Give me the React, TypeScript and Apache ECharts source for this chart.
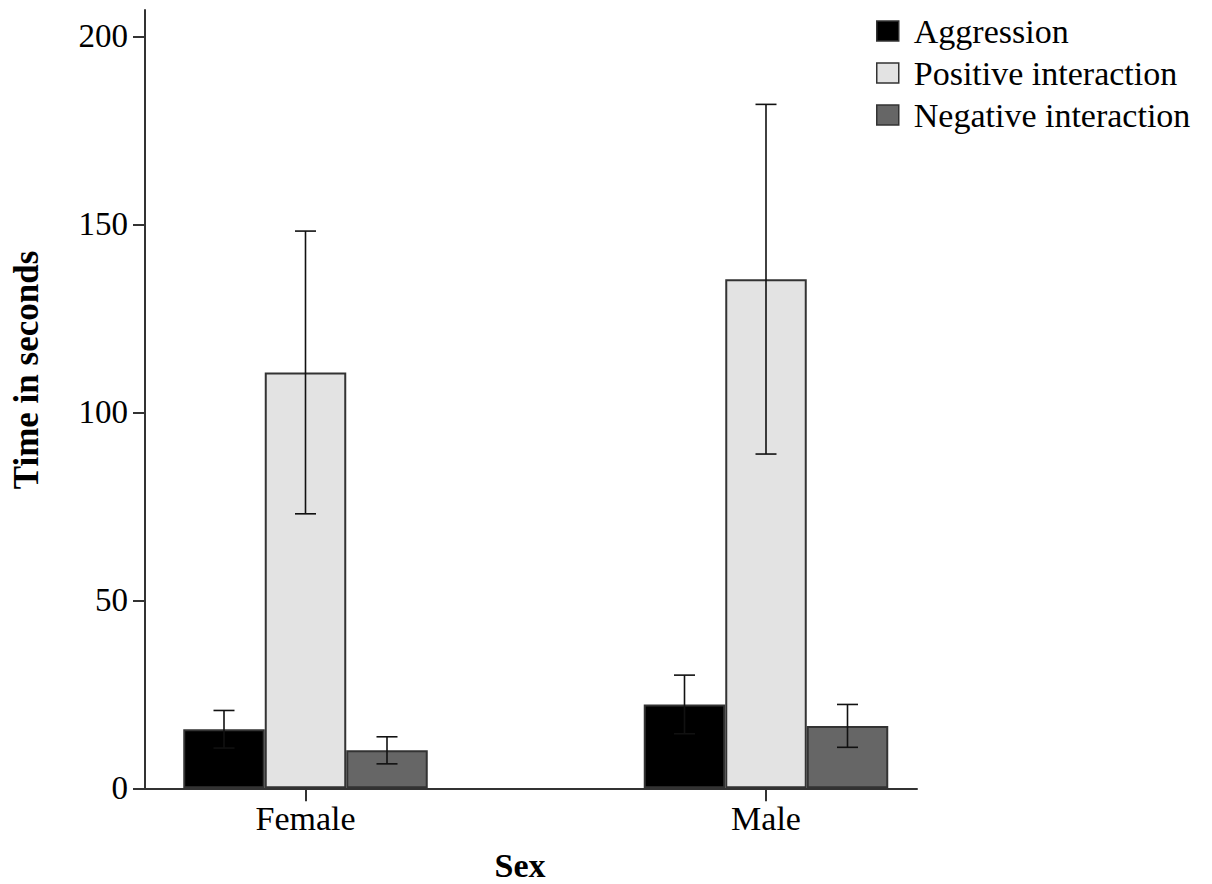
import React, { useEffect, useRef } from "react";
import * as echarts from "echarts";

// Mean time (s) and error half-width per behaviour, for each sex
const categories = ["Female", "Male"];
const seriesNames = ["Aggression", "Positive interaction", "Negative interaction"];
const aggressionMean = [15.7, 22.3];
const aggressionErr = [5.0, 7.8];
const positiveMean = [110.6, 135.4];
const positiveErr = [37.6, 46.5];
const negativeMean = [10.1, 16.6];
const negativeErr = [3.6, 5.7];
const yTicks = [0, 50, 100, 150, 200];

const fills = ["#000000", "#e3e3e3", "#666666"];
const SERIF = "'Liberation Serif', 'Times New Roman', serif";
const BAR_W = 81.5;
const CAP_HALF = 10.5;

export default function App() {
  const ref = useRef<HTMLDivElement>(null);

  useEffect(() => {
    document.body.style.margin = "0";
    if (!ref.current) return;
    const chart = echarts.init(ref.current, null, { renderer: "svg" });

    const means = [aggressionMean, positiveMean, negativeMean];
    const errs = [aggressionErr, positiveErr, negativeErr];

    const errorData: number[][] = [];
    means.forEach((m, g) => {
      m.forEach((v, c) => {
        errorData.push([c, v - errs[g][c], v + errs[g][c], g]);
      });
    });

    const yMax = 207;

    chart.setOption({
      animation: false,
      backgroundColor: "#ffffff",
      grid: [
        // frame grid: carries the visible axes
        { left: 145, right: 295, top: 10, bottom: 95.7 },
        // bar grid: category bands centred under each group
        { left: 75.25, right: 215.75, top: 10, bottom: 95.7 },
      ],
      xAxis: [
        {
          gridIndex: 0,
          type: "value",
          min: 0,
          max: 1,
          axisLine: { show: true, lineStyle: { color: "#333", width: 2 } },
          axisTick: { show: false },
          axisLabel: { show: false },
          splitLine: { show: false },
        },
        {
          gridIndex: 1,
          type: "category",
          data: categories,
          axisLine: { show: false },
          axisTick: {
            show: true,
            alignWithLabel: true,
            length: 13,
            lineStyle: { color: "#333", width: 2 },
          },
          axisLabel: {
            margin: 13,
            fontFamily: SERIF,
            fontSize: 34,
            color: "#000",
          },
          splitLine: { show: false },
        },
      ],
      yAxis: [
        {
          gridIndex: 0,
          type: "value",
          min: 0,
          max: yMax,
          axisLine: { show: true, lineStyle: { color: "#333", width: 2 } },
          axisTick: {
            show: true,
            length: 12,
            customValues: yTicks,
            lineStyle: { color: "#333", width: 2 },
          },
          axisLabel: {
            customValues: yTicks,
            margin: 17,
            fontFamily: SERIF,
            fontSize: 33,
            color: "#000",
          },
          splitLine: { show: false },
        },
        {
          gridIndex: 1,
          type: "value",
          min: 0,
          max: yMax,
          show: false,
          splitLine: { show: false },
        },
      ],
      legend: {
        orient: "vertical",
        left: 871,
        top: 9,
        itemWidth: 22,
        itemHeight: 20,
        itemGap: 8,
        icon: "rect",
        data: seriesNames,
        itemStyle: { borderColor: "#333", borderWidth: 1.5 },
        textStyle: {
          fontFamily: SERIF,
          fontSize: 34,
          color: "#000",
          padding: [0, 0, 0, 10],
        },
      },
      graphic: [
        {
          type: "text",
          x: 26,
          y: 370,
          rotation: Math.PI / 2,
          style: {
            text: "Time in seconds",
            fontFamily: SERIF,
            fontSize: 35,
            fontWeight: "bold",
            fill: "#000",
            textAlign: "center",
            textVerticalAlign: "middle",
          },
        },
        {
          type: "text",
          x: 520,
          y: 865,
          style: {
            text: "Sex",
            fontFamily: SERIF,
            fontSize: 34,
            fontWeight: "bold",
            fill: "#000",
            textAlign: "center",
            textVerticalAlign: "middle",
          },
        },
      ],
      series: [
        ...seriesNames.map((name, g) => ({
          name,
          type: "bar",
          xAxisIndex: 1,
          yAxisIndex: 1,
          barWidth: BAR_W,
          barGap: "0%",
          data: means[g],
          itemStyle: {
            color: fills[g],
            borderColor: "#333",
            borderWidth: 2,
          },
          z: 2,
        })),
        {
          type: "custom",
          name: "error",
          xAxisIndex: 1,
          yAxisIndex: 1,
          z: 5,
          encode: { x: 0, y: [1, 2] },
          data: errorData,
          renderItem: (params: any, api: any) => {
            const c = api.value(0);
            const lo = api.coord([c, api.value(1)]);
            const hi = api.coord([c, api.value(2)]);
            const g = api.value(3);
            const x = hi[0] + (g - 1) * BAR_W;
            const style = { stroke: "#111", lineWidth: 1.6 };
            return {
              type: "group",
              children: [
                { type: "line", shape: { x1: x, y1: hi[1], x2: x, y2: lo[1] }, style },
                { type: "line", shape: { x1: x - CAP_HALF, y1: hi[1], x2: x + CAP_HALF, y2: hi[1] }, style },
                { type: "line", shape: { x1: x - CAP_HALF, y1: lo[1], x2: x + CAP_HALF, y2: lo[1] }, style },
              ],
            };
          },
        },
      ],
    });

    return () => chart.dispose();
  }, []);

  return <div ref={ref} style={{ width: 1212, height: 884 }} />;
}
